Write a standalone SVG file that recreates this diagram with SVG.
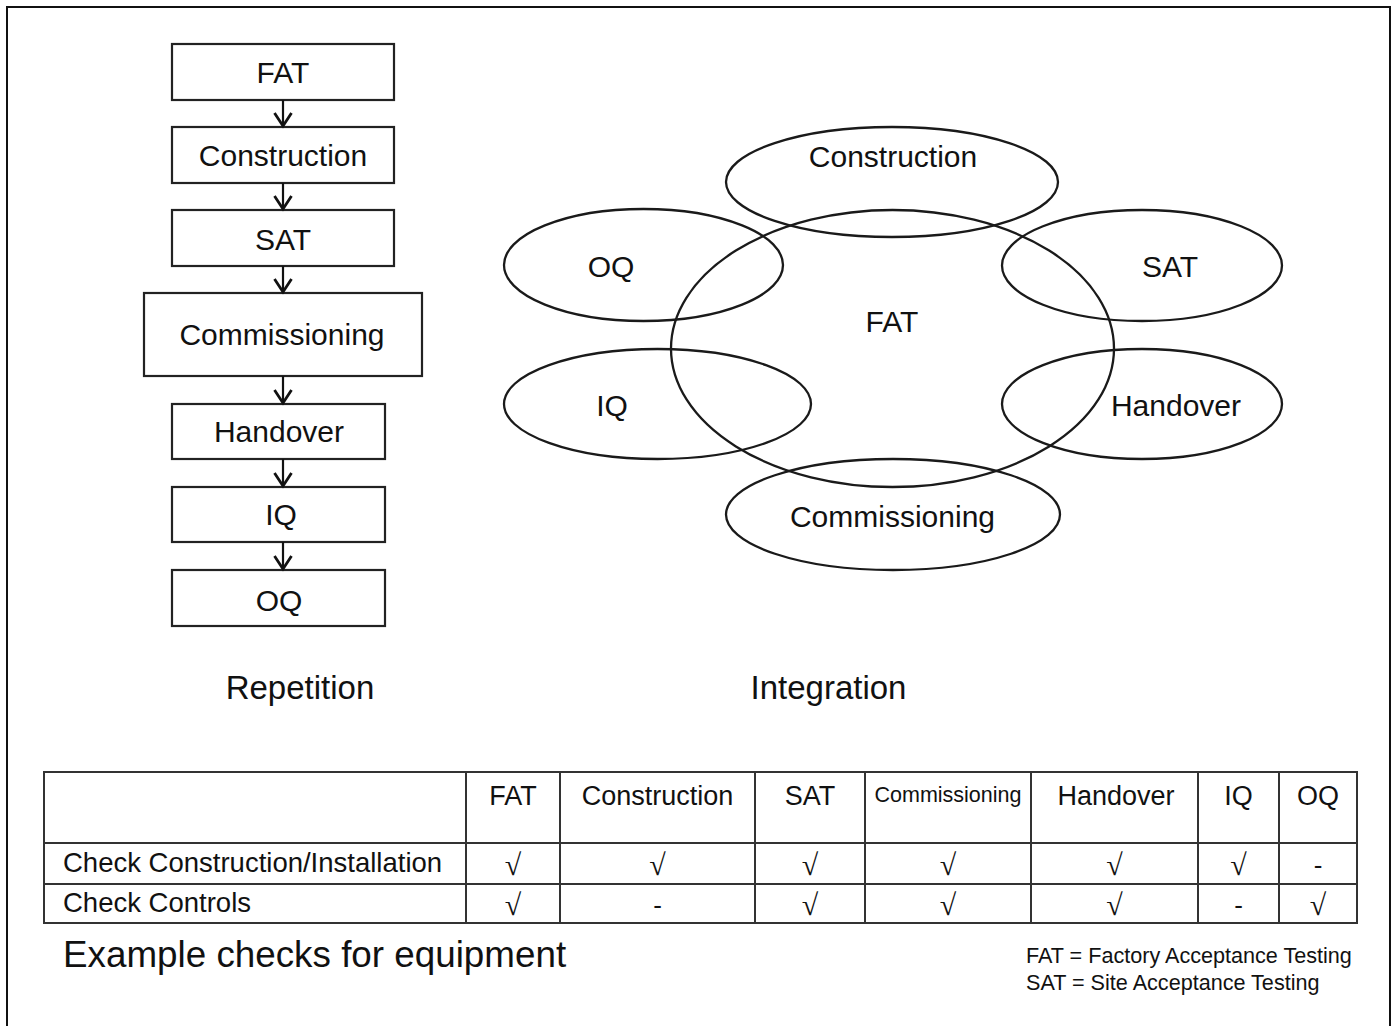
<svg xmlns="http://www.w3.org/2000/svg" width="1391" height="1026" viewBox="0 0 1391 1026">
<style>
  .box { fill: #fff; stroke: #222; stroke-width: 2.2; }
  .ell { fill: none; stroke: #1a1a1a; stroke-width: 2.3; }
  .t { font-family: "Liberation Sans", Arial, sans-serif; fill: #111; text-anchor: middle; }
  .t30 { font-size: 30px; }
  .t33 { font-size: 33px; }
  .th { font-size: 27px; }
  .tl { font-family: "Liberation Sans", Arial, sans-serif; fill: #111; font-size: 27.5px; }
  .chk { font-family: "Liberation Serif", "Times New Roman", serif; font-size: 30px; fill: #111; text-anchor: middle; }
  .dash { font-family: "Liberation Sans", Arial, sans-serif; font-size: 26px; fill: #111; text-anchor: middle; }
  .conn { stroke: #111; stroke-width: 2.2; fill: none; }
  .grid { stroke: #333; stroke-width: 2; fill: none; }
</style>
<defs>
  <marker id="arr" markerUnits="userSpaceOnUse" markerWidth="18" markerHeight="20" viewBox="0 0 18 20" refX="15" refY="10" orient="auto">
    <path d="M2,1.5 L15,10 L2,18.5" fill="none" stroke="#111" stroke-width="2.8" stroke-linejoin="miter"/>
  </marker>
</defs>
<rect x="0" y="0" width="1391" height="1026" fill="#fff"/>
<rect x="7" y="7" width="1383" height="1040" fill="none" stroke="#111" stroke-width="2"/>

<!-- Repetition flow -->
<g id="rep-fat"><rect class="box" x="172" y="44" width="222" height="56"/><text class="t t30" x="283" y="83">FAT</text></g>
<g id="rep-construction"><rect class="box" x="172" y="127" width="222" height="56"/><text class="t t30" x="283" y="166">Construction</text></g>
<g id="rep-sat"><rect class="box" x="172" y="210" width="222" height="56"/><text class="t t30" x="283" y="250">SAT</text></g>
<g id="rep-commissioning"><rect class="box" x="144" y="293" width="278" height="83"/><text class="t t30" x="282" y="345">Commissioning</text></g>
<g id="rep-handover"><rect class="box" x="172" y="404" width="213" height="55"/><text class="t t30" x="279" y="442">Handover</text></g>
<g id="rep-iq"><rect class="box" x="172" y="487" width="213" height="55"/><text class="t t30" x="281" y="525">IQ</text></g>
<g id="rep-oq"><rect class="box" x="172" y="570" width="213" height="56"/><text class="t t30" x="279" y="611">OQ</text></g>

<g id="connectors">
  <path class="conn" d="M283,100 V126" marker-end="url(#arr)"/>
  <path class="conn" d="M283,183 V209" marker-end="url(#arr)"/>
  <path class="conn" d="M283,266 V292" marker-end="url(#arr)"/>
  <path class="conn" d="M283,376 V403" marker-end="url(#arr)"/>
  <path class="conn" d="M283,459 V486" marker-end="url(#arr)"/>
  <path class="conn" d="M283,542 V569" marker-end="url(#arr)"/>
</g>

<!-- Integration -->
<g id="int-fat"><ellipse class="ell" cx="892.5" cy="348.5" rx="221.5" ry="138.5"/><text class="t t30" x="892" y="332">FAT</text></g>
<g id="int-construction"><ellipse class="ell" cx="892" cy="182" rx="166" ry="55"/><text class="t t30" x="893" y="167">Construction</text></g>
<g id="int-oq"><ellipse class="ell" cx="643.5" cy="265" rx="139.5" ry="56"/><text class="t t30" x="611" y="277">OQ</text></g>
<g id="int-iq"><ellipse class="ell" cx="657.5" cy="404" rx="153.5" ry="55"/><text class="t t30" x="612" y="416">IQ</text></g>
<g id="int-sat"><ellipse class="ell" cx="1142" cy="265.5" rx="140" ry="55.5"/><text class="t t30" x="1170" y="277">SAT</text></g>
<g id="int-handover"><ellipse class="ell" cx="1142" cy="404" rx="140" ry="55"/><text class="t t30" x="1176" y="416">Handover</text></g>
<g id="int-commissioning"><ellipse class="ell" cx="893" cy="514.5" rx="167" ry="55.5"/><text class="t t30" x="892.5" y="527">Commissioning</text></g>

<text class="t t33" x="300" y="699">Repetition</text>
<text class="t t33" x="828.5" y="699">Integration</text>

<!-- Table -->
<g id="table">
  <rect class="grid" x="44" y="772" width="1313" height="151"/>
  <path class="grid" d="M44,843 H1357 M44,884 H1357 M466,772 V923 M560,772 V923 M755,772 V923 M865,772 V923 M1031,772 V923 M1198,772 V923 M1279,772 V923"/>
  <text class="t th" x="513" y="805">FAT</text>
  <text class="t th" x="657.5" y="805">Construction</text>
  <text class="t th" x="810" y="805">SAT</text>
  <text class="t" style="font-size:21.5px" x="948" y="802">Commissioning</text>
  <text class="t th" x="1116" y="805">Handover</text>
  <text class="t th" x="1238.5" y="805">IQ</text>
  <text class="t th" x="1318" y="805">OQ</text>
  <text class="tl" x="63" y="872">Check Construction/Installation</text>
  <text class="tl" x="63" y="912">Check Controls</text>
  <text class="chk" x="513" y="875">√</text>
  <text class="chk" x="657.5" y="875">√</text>
  <text class="chk" x="810" y="875">√</text>
  <text class="chk" x="948" y="875">√</text>
  <text class="chk" x="1114.5" y="875">√</text>
  <text class="chk" x="1238.5" y="875">√</text>
  <text class="dash" x="1318" y="874">-</text>
  <text class="chk" x="513" y="915">√</text>
  <text class="dash" x="657.5" y="914">-</text>
  <text class="chk" x="810" y="915">√</text>
  <text class="chk" x="948" y="915">√</text>
  <text class="chk" x="1114.5" y="915">√</text>
  <text class="dash" x="1238.5" y="914">-</text>
  <text class="chk" x="1318" y="915">√</text>
</g>

<text class="tl" style="font-size:36.8px" x="63" y="967">Example checks for equipment</text>
<text class="tl" style="font-size:21.6px" x="1026" y="963">FAT = Factory Acceptance Testing</text>
<text class="tl" style="font-size:21.6px" x="1026" y="990">SAT = Site Acceptance Testing</text>
</svg>
